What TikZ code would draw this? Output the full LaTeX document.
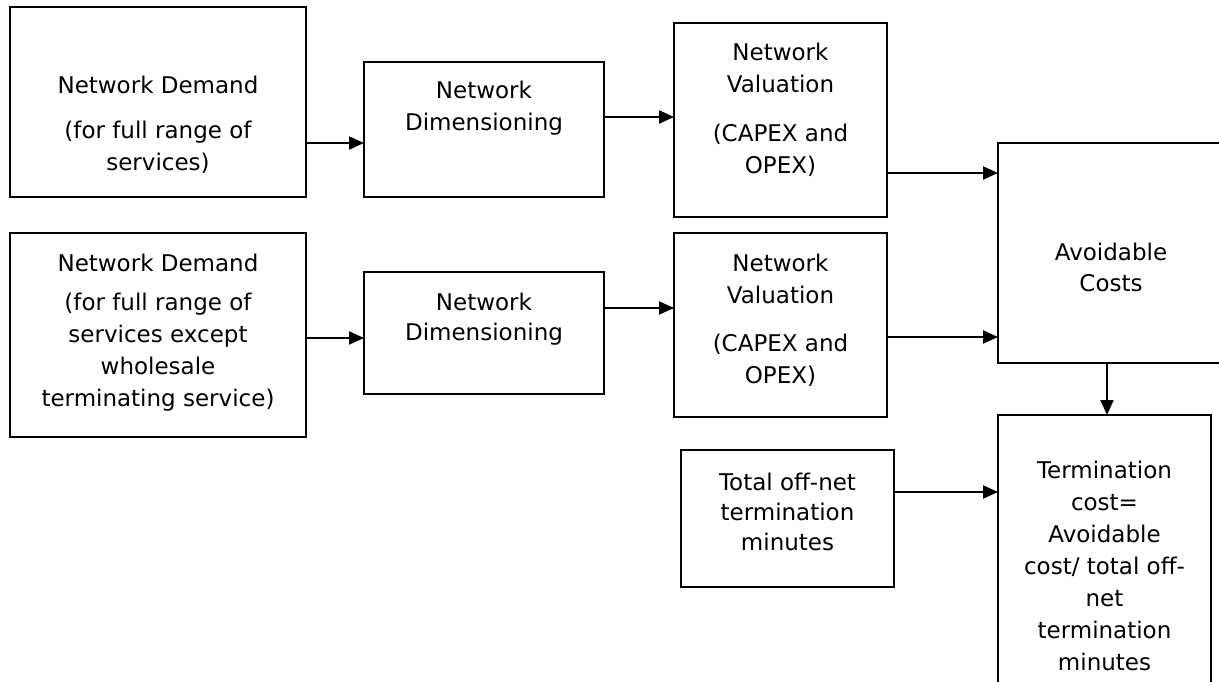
\documentclass[tikz,border=0pt]{standalone}
\usepackage{fontspec}
\setmainfont{DejaVu Sans}
\usetikzlibrary{arrows.meta,fit}
\begin{document}
\begin{tikzpicture}[x=1pt,y=-1pt,
  box/.style={draw,line width=2pt,inner sep=0pt,outer sep=0pt},
  txt/.style={anchor=north,inner sep=0pt,align=center,font=\fontsize{23}{32}\selectfont},
  arr/.style={line width=2pt,-{Triangle[length=15pt,width=13pt]}}]
\useasboundingbox (0,0) rectangle (1219,682);
\clip (0,0) rectangle (1219,682);
% boxes
\node[box,fit={(10,7) (306,197)}] (a1) {};
\node[box,fit={(364,62) (604,197)}] (b1) {};
\node[box,fit={(674,23) (887,217)}] (c1) {};
\node[box,fit={(998,143) (1225,363)}] (av) {};
\node[box,fit={(10,233) (306,437)}] (a2) {};
\node[box,fit={(364,272) (604,394)}] (b2) {};
\node[box,fit={(674,233) (887,417)}] (c2) {};
\node[box,fit={(681,450) (894,587)}] (tot) {};
\node[box,fit={(998,415) (1211,692)}] (term) {};
% texts
\node[txt] (ta1) at (158,71) {\strut Network Demand\\[13pt](for full range of\\services)};
\node[txt] (tb1) at (484,76) {\strut Network\\Dimensioning};
\node[txt] (tc1) at (780.5,38) {\strut Network\\Valuation\\[17pt](CAPEX and\\OPEX)};
\node[txt] (tav) at (1111,238) {\strut Avoidable\\[-1pt]Costs};
\node[txt] (ta2) at (158,249) {\strut Network Demand\\[7pt](for full range of\\services except\\wholesale\\terminating service)};
\node[txt] (tb2) at (484,288) {\strut Network\\[-2pt]Dimensioning};
\node[txt] (tc2) at (780.5,249) {\strut Network\\Valuation\\[16pt](CAPEX and\\OPEX)};
\node[txt] (ttot) at (787.5,468) {\strut Total off-net\\[-2pt]termination\\[-2pt]minutes};
\node[txt] (tterm) at (1104.5,456) {\strut Termination\\cost=\\Avoidable\\cost/ total off-\\net\\termination\\minutes};
% connectors
\draw[arr] (a1.east |- 0,143) -- (b1.west |- 0,143);
\draw[arr] (b1.east |- 0,117) -- (c1.west |- 0,117);
\draw[arr] (c1.east |- 0,173) -- (av.west |- 0,173);
\draw[arr] (a2.east |- 0,338) -- (b2.west |- 0,338);
\draw[arr] (b2.east |- 0,308) -- (c2.west |- 0,308);
\draw[arr] (c2.east |- 0,337) -- (av.west |- 0,337);
\draw[arr] (av.south -| 1107,0) -- (term.north -| 1107,0);
\draw[arr] (tot.east |- 0,492) -- (term.west |- 0,492);
\end{tikzpicture}
\end{document}
